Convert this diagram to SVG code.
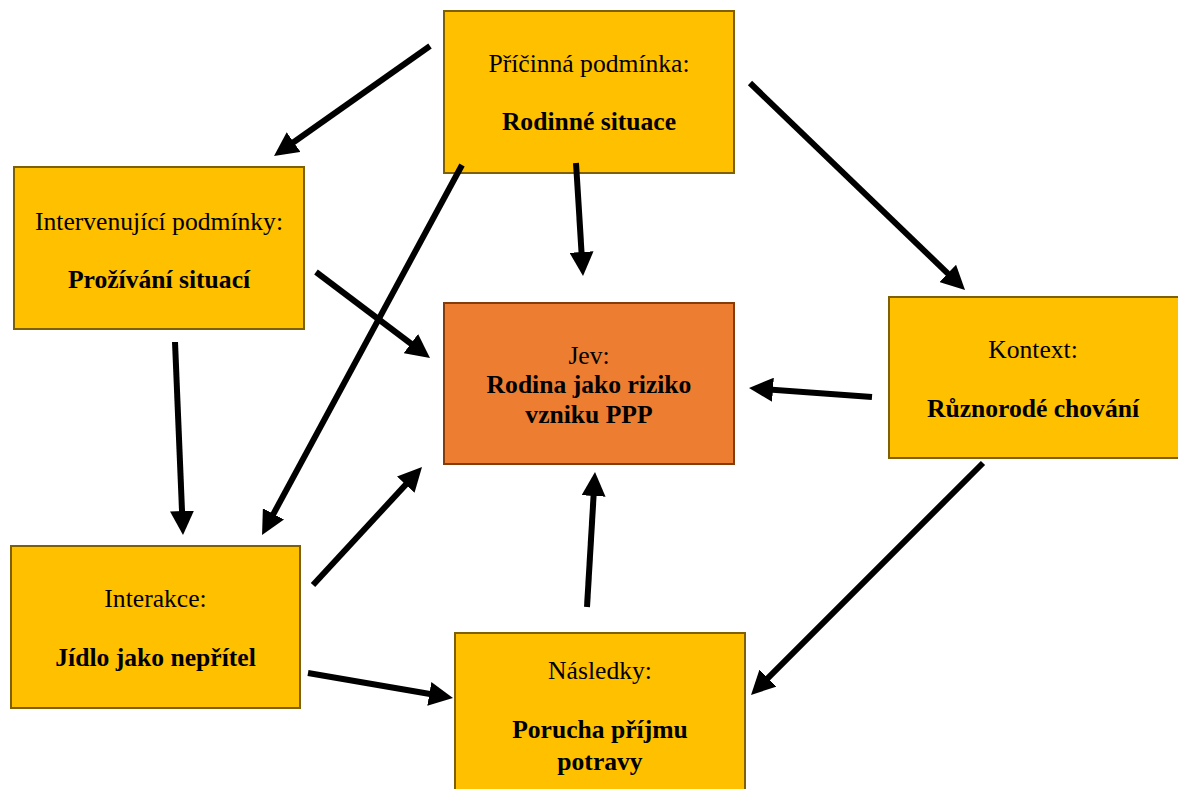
<svg xmlns="http://www.w3.org/2000/svg" width="1178" height="789" viewBox="0 0 1178 789">
  <style>
    .box { fill: #FFC000; stroke: #7F6000; stroke-width: 2; }
    .core { fill: #ED7D31; stroke: #843C0C; stroke-width: 2; }
    .t { font-family: "Liberation Serif", "Times New Roman", serif; font-size: 25.6px; fill: #000; text-anchor: middle; }
    .b { font-weight: bold; }
    .arrow { stroke: #000; stroke-width: 6; fill: none; marker-end: url(#ah); }
  </style>
  <defs>
    <marker id="ah" viewBox="0 0 4 4" markerWidth="4" markerHeight="4" refX="2.33" refY="2" orient="auto">
      <path d="M0,0 L4,2 L0,4 z" fill="#000"/>
    </marker>
  </defs>
  <rect width="1178" height="789" fill="#fff"/>

  <g id="pricinna">
    <rect class="box" x="444" y="11" width="290" height="162"/>
    <text class="t" x="589" y="72">Příčinná podmínka:</text>
    <text class="t b" x="589" y="130">Rodinné situace</text>
  </g>
  <g id="intervenujici">
    <rect class="box" x="14" y="167" width="290" height="162"/>
    <text class="t" x="159" y="230">Intervenující podmínky:</text>
    <text class="t b" x="159" y="288">Prožívání situací</text>
  </g>
  <g id="jev">
    <rect class="core" x="444" y="303" width="290" height="161"/>
    <text class="t" x="589" y="364">Jev:</text>
    <text class="t b" x="589" y="393">Rodina jako riziko</text>
    <text class="t b" x="589" y="423">vzniku PPP</text>
  </g>
  <g id="kontext">
    <rect class="box" x="889" y="297" width="300" height="161"/>
    <text class="t" x="1033" y="358">Kontext:</text>
    <text class="t b" x="1033" y="417">Různorodé chování</text>
  </g>
  <g id="interakce">
    <rect class="box" x="11" y="546" width="289" height="162"/>
    <text class="t" x="155.5" y="607">Interakce:</text>
    <text class="t b" x="155.5" y="666">Jídlo jako nepřítel</text>
  </g>
  <g id="nasledky">
    <rect class="box" x="455" y="633" width="290" height="170"/>
    <text class="t" x="600" y="679">Následky:</text>
    <text class="t b" x="600" y="738">Porucha příjmu</text>
    <text class="t b" x="600" y="770">potravy</text>
  </g>

  <g id="connectors">
    <path class="arrow" d="M430,46 L282.2,150.2"/>
    <path class="arrow" d="M750,83 L957.8,283.1"/>
    <path class="arrow" d="M462,165 L266.8,526.2"/>
    <path class="arrow" d="M576,163 L582.4,266"/>
    <path class="arrow" d="M316,272 L422,352"/>
    <path class="arrow" d="M175,342 L182.6,525"/>
    <path class="arrow" d="M313,585 L415.2,474.4"/>
    <path class="arrow" d="M308,673 L443.1,696.3"/>
    <path class="arrow" d="M587,607 L594.4,482"/>
    <path class="arrow" d="M872,397 L759,388.7"/>
    <path class="arrow" d="M983,463 L758.1,687.9"/>
  </g>
</svg>
